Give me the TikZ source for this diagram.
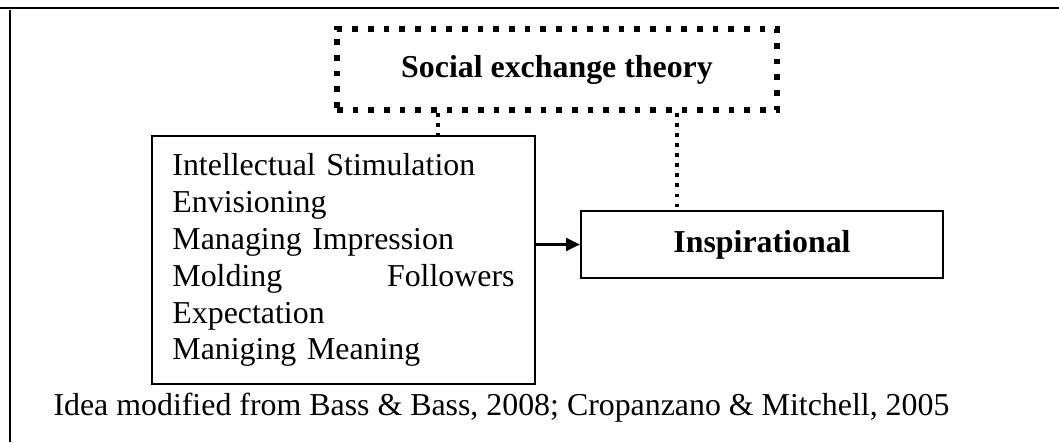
\documentclass[tikz,border=0pt]{standalone}
\usepackage{fontspec}
\setmainfont{Liberation Serif}
\usetikzlibrary{arrows.meta}

\tikzset{
  plainbox/.style={draw,line width=0.8pt,font=\fontsize{12}{13.9}\selectfont},
  dotlink/.style={line width=1.3pt,dash pattern=on 1.4pt off 2.4pt},
  linkarrow/.style={line width=0.9pt,-{Triangle[length=5.2pt,width=4.8pt]}}
}

\begin{document}
\begin{tikzpicture}[x=0.3765pt,y=-0.3765pt]
  \useasboundingbox (0,0) rectangle (1059,442);
  % frame
  \draw[line width=0.9pt] (0,8) -- (1059,8);
  \draw[line width=0.6pt] (10,10) -- (10,442);

  % theory
  \node[draw,line width=2.1pt,dash pattern=on 2.1pt off 3.8pt,minimum width=165.7pt,minimum height=30.5pt,
        font=\fontsize{12}{13.9}\selectfont\bfseries] (theory) at (557,69.5) {Social exchange theory};

  % traits
  \node[plainbox,text width=128.8pt,inner xsep=7.7pt,minimum height=93.4pt,align=left] (traits) at (343.5,260) {
    Intellectual Stimulation\\
    Envisioning\\
    Managing Impression\\
    \makebox[\hsize]{Molding\hfill Followers}\\
    Expectation\\
    Maniging Meaning
  };

  % outcome
  \node[plainbox,minimum width=136.3pt,minimum height=25.2pt,font=\fontsize{12}{13.9}\selectfont\bfseries] (inspir) at (762,244.5) {Inspirational};

  % links
  \draw[linkarrow] (inspir.west -| traits.east) -- (inspir.west);
  \draw[dotlink] (theory.south -| 438,0) -- (traits.north -| 438,0);
  \draw[dotlink] (theory.south -| 677,0) -- (inspir.north -| 677,0);

  % source
  \node[anchor=base west,inner sep=0pt,font=\fontsize{12}{13.9}\selectfont] (source) at (53,415)
    {Idea modified from Bass \& Bass, 2008; Cropanzano \& Mitchell, 2005};
\end{tikzpicture}
\end{document}
